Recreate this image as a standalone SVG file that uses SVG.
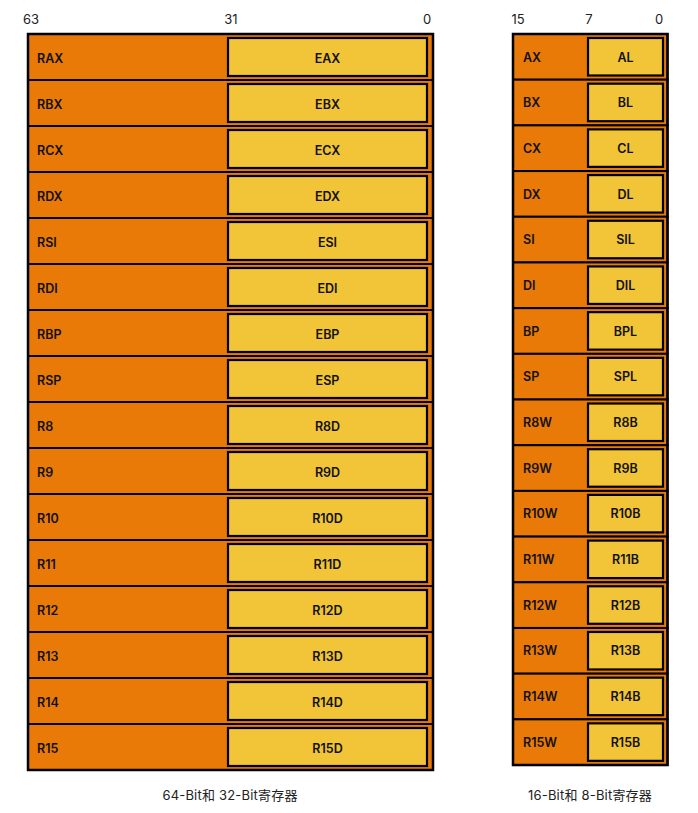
<svg xmlns="http://www.w3.org/2000/svg" width="698" height="813" viewBox="0 0 698 813">
<style>
.row{fill:#E97A08;stroke:#000;stroke-width:2}
.sub{fill:#F2C437;stroke:#000;stroke-width:2.2}
.lbl{font-family:Inter,"Liberation Sans","Noto Sans CJK SC",sans-serif;font-size:12.5px;font-weight:600;fill:#111}
.mid{text-anchor:middle}
.bit{font-family:Inter,"Liberation Sans",sans-serif;font-size:13px;fill:#222;text-anchor:middle}
.cap{font-family:Inter,"Noto Sans CJK SC",sans-serif;font-size:13px;fill:#222;text-anchor:middle;letter-spacing:0.2px}
.frame{fill:none;stroke:#000;stroke-width:2.5}
</style>
<defs>
<g id="L"><rect class="row" x="28" y="0" width="405" height="46"/><rect class="sub" x="228" y="4" width="199" height="38"/></g>
<g id="S"><rect class="row" x="513" y="0" width="154.5" height="45.69"/><rect class="sub" x="588" y="4" width="75" height="37.5"/></g>
</defs>
<g id="bits">
<text class="bit" x="31" y="24">63</text>
<text class="bit" x="231" y="24">31</text>
<text class="bit" x="427" y="24">0</text>
<text class="bit" x="518" y="24">15</text>
<text class="bit" x="589" y="24">7</text>
<text class="bit" x="659" y="24">0</text>
</g>
<g id="r64">
<g id="rax" transform="translate(0,34)"><use href="#L"/><text class="lbl" x="37" y="29">RAX</text><text class="lbl mid" x="327.5" y="29">EAX</text></g>
<g id="rbx" transform="translate(0,80)"><use href="#L"/><text class="lbl" x="37" y="29">RBX</text><text class="lbl mid" x="327.5" y="29">EBX</text></g>
<g id="rcx" transform="translate(0,126)"><use href="#L"/><text class="lbl" x="37" y="29">RCX</text><text class="lbl mid" x="327.5" y="29">ECX</text></g>
<g id="rdx" transform="translate(0,172)"><use href="#L"/><text class="lbl" x="37" y="29">RDX</text><text class="lbl mid" x="327.5" y="29">EDX</text></g>
<g id="rsi" transform="translate(0,218)"><use href="#L"/><text class="lbl" x="37" y="29">RSI</text><text class="lbl mid" x="327.5" y="29">ESI</text></g>
<g id="rdi" transform="translate(0,264)"><use href="#L"/><text class="lbl" x="37" y="29">RDI</text><text class="lbl mid" x="327.5" y="29">EDI</text></g>
<g id="rbp" transform="translate(0,310)"><use href="#L"/><text class="lbl" x="37" y="29">RBP</text><text class="lbl mid" x="327.5" y="29">EBP</text></g>
<g id="rsp" transform="translate(0,356)"><use href="#L"/><text class="lbl" x="37" y="29">RSP</text><text class="lbl mid" x="327.5" y="29">ESP</text></g>
<g id="r8" transform="translate(0,402)"><use href="#L"/><text class="lbl" x="37" y="29">R8</text><text class="lbl mid" x="327.5" y="29">R8D</text></g>
<g id="r9" transform="translate(0,448)"><use href="#L"/><text class="lbl" x="37" y="29">R9</text><text class="lbl mid" x="327.5" y="29">R9D</text></g>
<g id="r10" transform="translate(0,494)"><use href="#L"/><text class="lbl" x="37" y="29">R10</text><text class="lbl mid" x="327.5" y="29">R10D</text></g>
<g id="r11" transform="translate(0,540)"><use href="#L"/><text class="lbl" x="37" y="29">R11</text><text class="lbl mid" x="327.5" y="29">R11D</text></g>
<g id="r12" transform="translate(0,586)"><use href="#L"/><text class="lbl" x="37" y="29">R12</text><text class="lbl mid" x="327.5" y="29">R12D</text></g>
<g id="r13" transform="translate(0,632)"><use href="#L"/><text class="lbl" x="37" y="29">R13</text><text class="lbl mid" x="327.5" y="29">R13D</text></g>
<g id="r14" transform="translate(0,678)"><use href="#L"/><text class="lbl" x="37" y="29">R14</text><text class="lbl mid" x="327.5" y="29">R14D</text></g>
<g id="r15" transform="translate(0,724)"><use href="#L"/><text class="lbl" x="37" y="29">R15</text><text class="lbl mid" x="327.5" y="29">R15D</text></g>
<rect class="frame" x="28" y="34" width="405" height="736"/>
</g>
<g id="r16">
<g id="ax" transform="translate(0,34)"><use href="#S"/><text class="lbl" x="523" y="27.5">AX</text><text class="lbl mid" x="625.5" y="27.5">AL</text></g>
<g id="bx" transform="translate(0,79.69)"><use href="#S"/><text class="lbl" x="523" y="27.5">BX</text><text class="lbl mid" x="625.5" y="27.5">BL</text></g>
<g id="cx" transform="translate(0,125.38)"><use href="#S"/><text class="lbl" x="523" y="27.5">CX</text><text class="lbl mid" x="625.5" y="27.5">CL</text></g>
<g id="dx" transform="translate(0,171.07)"><use href="#S"/><text class="lbl" x="523" y="27.5">DX</text><text class="lbl mid" x="625.5" y="27.5">DL</text></g>
<g id="si" transform="translate(0,216.76)"><use href="#S"/><text class="lbl" x="523" y="27.5">SI</text><text class="lbl mid" x="625.5" y="27.5">SIL</text></g>
<g id="di" transform="translate(0,262.45)"><use href="#S"/><text class="lbl" x="523" y="27.5">DI</text><text class="lbl mid" x="625.5" y="27.5">DIL</text></g>
<g id="bp" transform="translate(0,308.14)"><use href="#S"/><text class="lbl" x="523" y="27.5">BP</text><text class="lbl mid" x="625.5" y="27.5">BPL</text></g>
<g id="sp" transform="translate(0,353.83)"><use href="#S"/><text class="lbl" x="523" y="27.5">SP</text><text class="lbl mid" x="625.5" y="27.5">SPL</text></g>
<g id="r8w" transform="translate(0,399.52)"><use href="#S"/><text class="lbl" x="523" y="27.5">R8W</text><text class="lbl mid" x="625.5" y="27.5">R8B</text></g>
<g id="r9w" transform="translate(0,445.21)"><use href="#S"/><text class="lbl" x="523" y="27.5">R9W</text><text class="lbl mid" x="625.5" y="27.5">R9B</text></g>
<g id="r10w" transform="translate(0,490.9)"><use href="#S"/><text class="lbl" x="523" y="27.5">R10W</text><text class="lbl mid" x="625.5" y="27.5">R10B</text></g>
<g id="r11w" transform="translate(0,536.59)"><use href="#S"/><text class="lbl" x="523" y="27.5">R11W</text><text class="lbl mid" x="625.5" y="27.5">R11B</text></g>
<g id="r12w" transform="translate(0,582.28)"><use href="#S"/><text class="lbl" x="523" y="27.5">R12W</text><text class="lbl mid" x="625.5" y="27.5">R12B</text></g>
<g id="r13w" transform="translate(0,627.97)"><use href="#S"/><text class="lbl" x="523" y="27.5">R13W</text><text class="lbl mid" x="625.5" y="27.5">R13B</text></g>
<g id="r14w" transform="translate(0,673.66)"><use href="#S"/><text class="lbl" x="523" y="27.5">R14W</text><text class="lbl mid" x="625.5" y="27.5">R14B</text></g>
<g id="r15w" transform="translate(0,719.35)"><use href="#S"/><text class="lbl" x="523" y="27.5">R15W</text><text class="lbl mid" x="625.5" y="27.5">R15B</text></g>
<rect class="frame" x="513" y="34" width="154.5" height="731"/>
</g>
<g id="captions">
<text class="cap" x="230" y="800">64-Bit和 32-Bit寄存器</text>
<text class="cap" x="590" y="800">16-Bit和 8-Bit寄存器</text>
</g>
</svg>
